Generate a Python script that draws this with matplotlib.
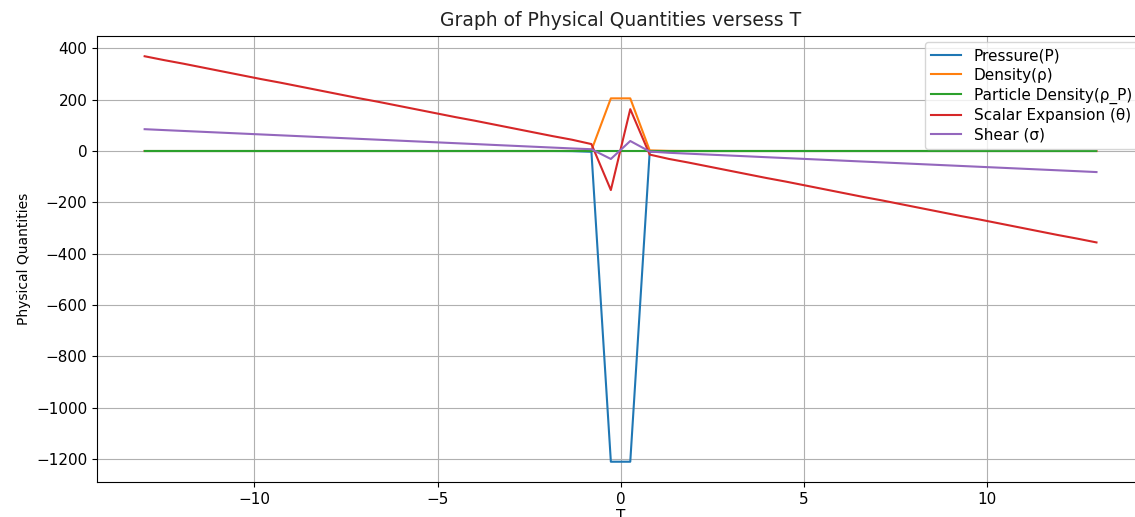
import matplotlib
matplotlib.use("Agg")
import matplotlib.pyplot as plt
import numpy as np

# T values (50 samples from -13 to 13)
T = [-13.000, -12.469, -11.939, -11.408, -10.878, -10.347, -9.816, -9.286, -8.755, -8.224,
     -7.694, -7.163, -6.633, -6.102, -5.571, -5.041, -4.510, -3.980, -3.449, -2.918,
     -2.388, -1.857, -1.327, -0.796, -0.265, 0.265, 0.796, 1.327, 1.857, 2.388,
     2.918, 3.449, 3.980, 4.510, 5.041, 5.571, 6.102, 6.633, 7.163, 7.694,
     8.224, 8.755, 9.286, 9.816, 10.347, 10.878, 11.408, 11.939, 12.469, 13.000]

pressure = [0]*21 + [0, -0.5, -3, -1210, -1210, -3, -0.5, 0] + [0]*21
density = [0]*21 + [0.1, 0.4, 2.5, 205, 205, 2.5, 0.4, 0.1] + [0]*21
particle_density = [0]*50
theta = [369, 354, 340, 325, 310, 295, 280, 266, 251, 236,
         221, 206, 192, 177, 162, 147, 132, 118, 103, 88,
         73, 58, 44, 27, -152, 163, -14, -31, -45, -60,
         -75, -90, -105, -119, -134, -149, -164, -179, -193, -208,
         -223, -238, -253, -267, -282, -297, -312, -327, -341, -356]
shear = [85, 81.5, 78.1, 74.7, 71.3, 67.9, 64.5, 61.1, 57.7, 54.3,
         50.9, 47.5, 44.1, 40.7, 37.3, 33.9, 30.5, 27.1, 23.6, 20.2,
         16.8, 13.4, 10.0, 7, -31, 39, -2, -7.0, -10.4, -13.8,
         -17.2, -20.6, -24.1, -27.5, -30.9, -34.3, -37.7, -41.1, -44.5, -47.9,
         -51.3, -54.7, -58.1, -61.5, -64.9, -68.3, -71.7, -75.1, -78.5, -82]

fig = plt.figure(figsize=(11.35, 5.17), dpi=100)
ax = fig.add_axes([0.0855, 0.0677, 0.9225, 0.8627])

ax.plot(T, pressure, label="Pressure(P)")
ax.plot(T, density, label="Density(ρ)")
ax.plot(T, particle_density, label="Particle Density(ρ_P)")
ax.plot(T, theta, label="Scalar Expansion (θ)")
ax.plot(T, shear, label="Shear (σ)")

ax.set_title("Graph of Physical Quantities versess T", fontsize=13.5, color="#222222", pad=7)
ax.set_xlabel("T", fontsize=11, labelpad=2)
ax.set_ylabel("Physical Quantities", fontsize=10)
ax.tick_params(labelsize=11)
ax.legend(loc="upper right", fontsize=11, labelspacing=0.3, borderaxespad=0.4)
ax.grid(True)

fig.savefig("out.png", dpi=100)
